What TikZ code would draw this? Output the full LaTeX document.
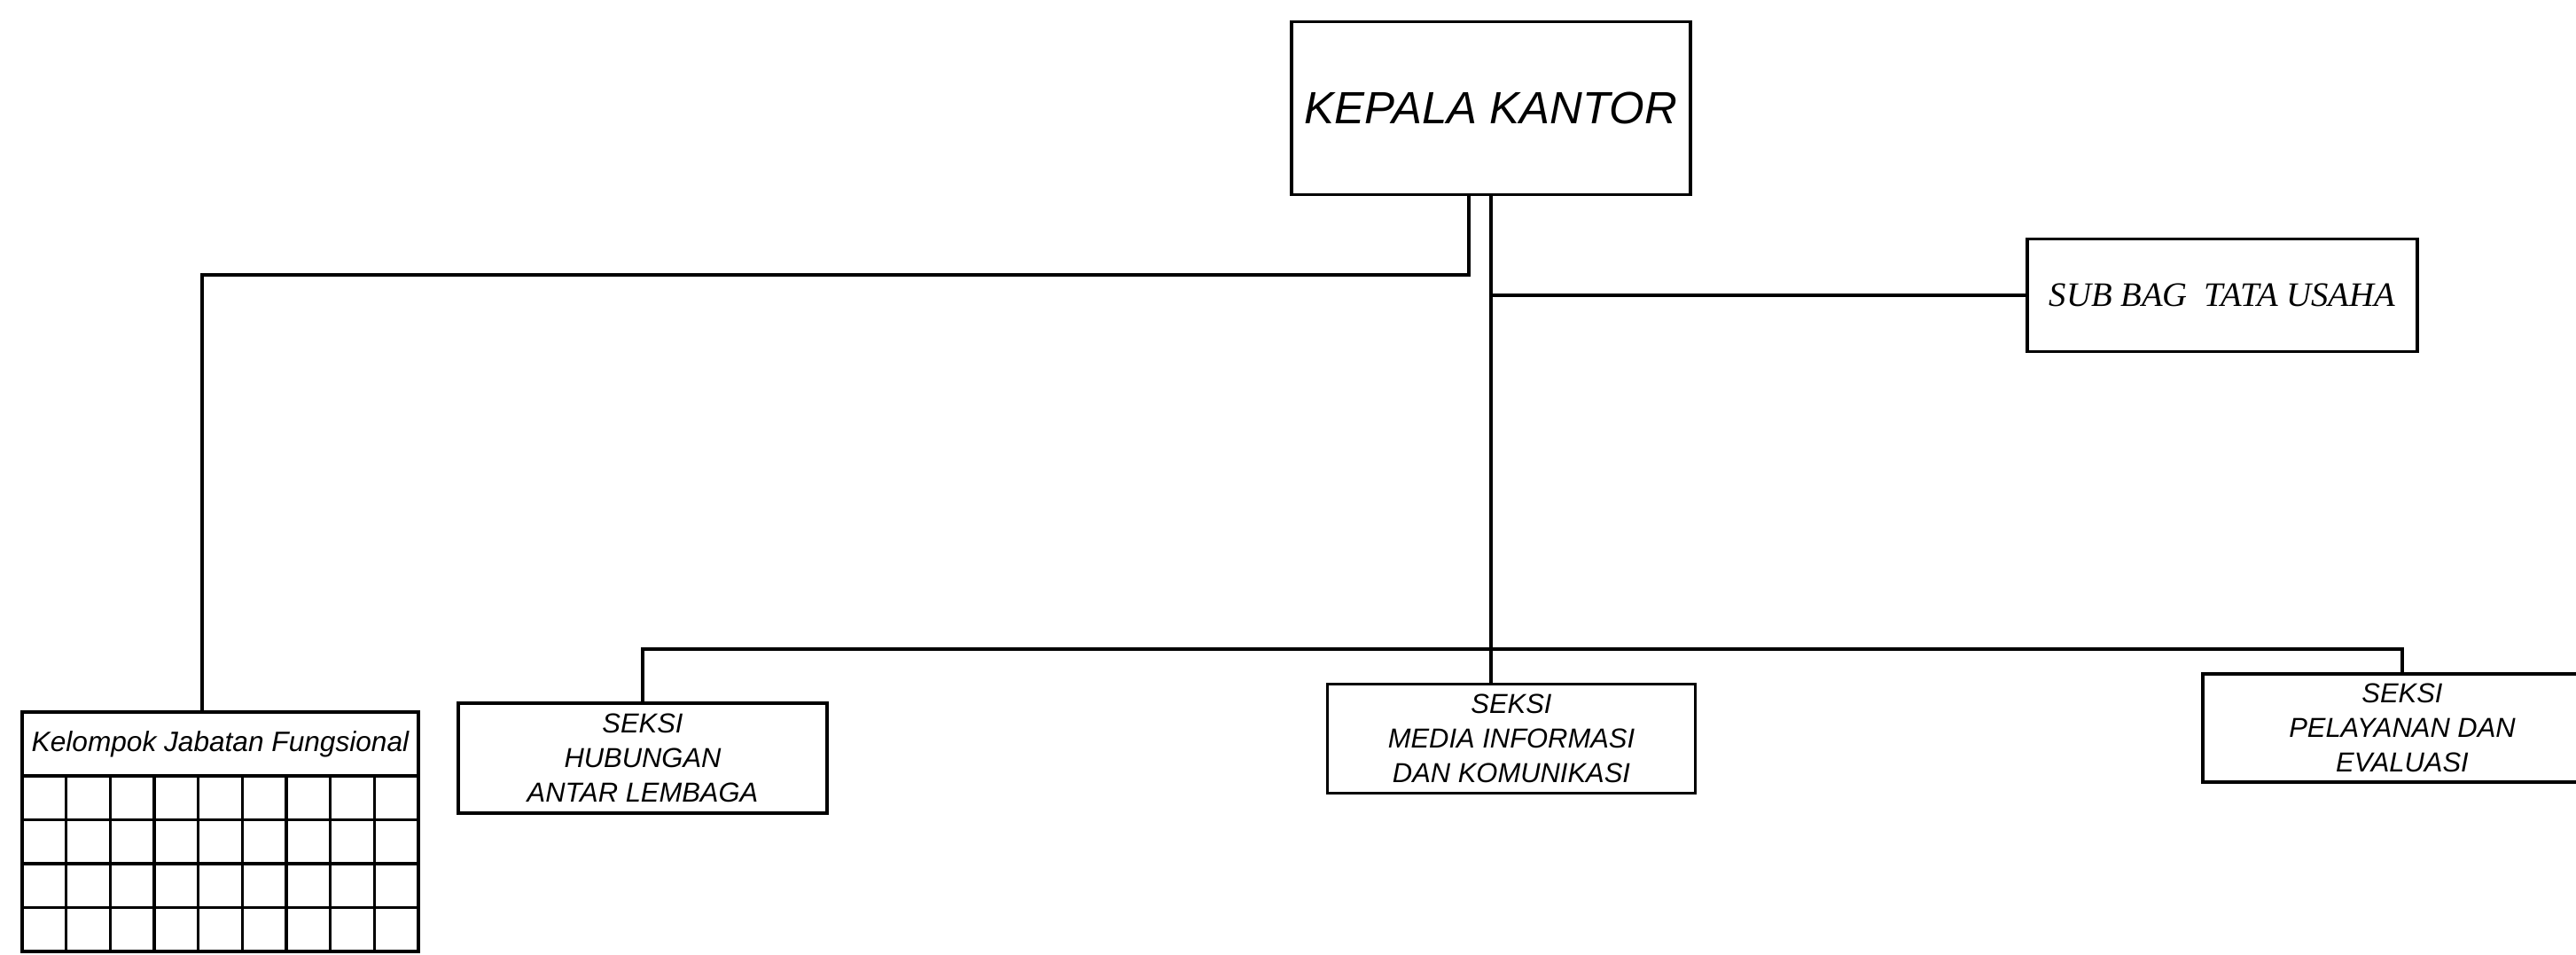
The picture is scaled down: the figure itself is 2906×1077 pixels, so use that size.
\documentclass[tikz,border=0pt]{standalone}
\usepackage{fontspec}
\setmainfont{Liberation Sans}
\newfontfamily\timesfont{Liberation Serif}
\usetikzlibrary{positioning}

\begin{document}
\begin{tikzpicture}[x=0.1mm, y=0.1mm, line width=0.9pt,
  kotak/.style={draw, align=center, inner sep=0pt},
  seksi/.style={kotak, font=\fontsize{8.8}{11}\selectfont\itshape}]
\useasboundingbox (0,0) rectangle (2906,1077);
% kepala dan sub bagian
\node[kotak, minimum width=45mm, minimum height=19.5mm, font=\fontsize{14.5}{17}\selectfont\itshape] (kepala) at (1682,955) {KEPALA KANTOR};
\node[kotak, minimum width=44mm, minimum height=12.7mm, font=\fontsize{11}{13}\timesfont\itshape] (subbag) at (2507,744) {SUB BAG\ \ TATA USAHA};
% seksi
\node[seksi, minimum width=41.6mm, minimum height=12.4mm] (hubungan) at (725,222) {SEKSI\\HUBUNGAN\\ANTAR LEMBAGA};
\node[seksi, minimum width=41.5mm, minimum height=12.3mm] (media) at (1705,244) {SEKSI\\MEDIA INFORMASI\\DAN KOMUNIKASI};
\node[seksi, minimum width=45mm, minimum height=12.2mm] (pelayanan) at (2710,256) {SEKSI\\PELAYANAN DAN\\EVALUASI};
% kelompok jabatan fungsional
\node[kotak, minimum width=44.7mm, minimum height=7.2mm, font=\fontsize{9}{10}\selectfont\itshape] (kelompok) at (248.5,238) {Kelompok Jabatan Fungsional};
\draw (25,4) rectangle (472,202);
\foreach \i in {1,...,8} \draw (25+\i*49.67,4) -- ++(0,198);
\foreach \j in {1,2,3} \draw (25,4+\j*49.5) -- ++(447,0);
% garis
\coordinate (kiri) at (228,767);
\coordinate (bus) at (0,345);
\draw ([xshift=-2.5mm]kepala.south) |- (kiri) -- (kiri |- kelompok.north);
\draw (kepala.south) -- (kepala.south |- media.north);
\draw (kepala.south |- subbag.west) -- (subbag.west);
\draw (hubungan.north) |- (pelayanan.north |- bus) -- (pelayanan.north);
\end{tikzpicture}
\end{document}
